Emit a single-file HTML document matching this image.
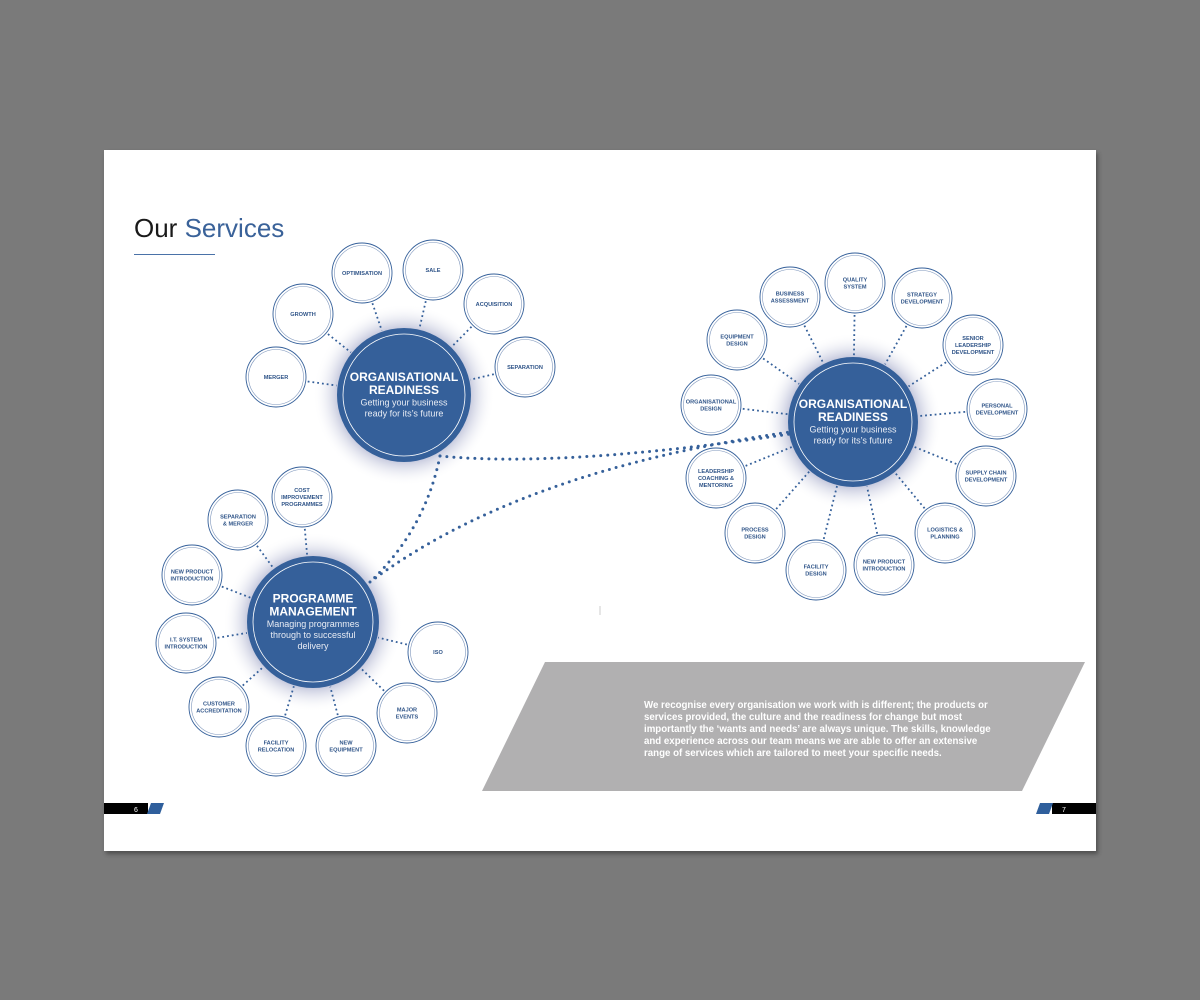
<!DOCTYPE html>
<html><head><meta charset="utf-8"><style>
html,body{margin:0;padding:0;width:1200px;height:1000px;overflow:hidden;background:#7b7b7b;font-family:"Liberation Sans",Arial,sans-serif}
svg{display:block}
</style></head><body>
<svg id="s" width="1200" height="1000" viewBox="0 0 1200 1000" xmlns="http://www.w3.org/2000/svg" font-family="Liberation Sans, Arial, sans-serif">
<defs>
<radialGradient id="glow"><stop offset="0.7" stop-color="#b9bdd6" stop-opacity="1"/><stop offset="1" stop-color="#ffffff" stop-opacity="0"/></radialGradient>
<filter id="sh" x="-5%" y="-5%" width="110%" height="110%"><feGaussianBlur stdDeviation="2"/></filter>
</defs>
<rect x="0" y="0" width="1200" height="1000" fill="#7a7a7a"/>
<rect x="106" y="153" width="992" height="701" fill="#333" opacity="0.6" filter="url(#sh)"/>
<rect x="104" y="150" width="992" height="701" fill="#ffffff"/>
<text x="134" y="237" font-size="26" fill="#1a1a1a">Our <tspan fill="#3a6299">Services</tspan></text>
<line x1="134" y1="254.5" x2="215" y2="254.5" stroke="#4a72a8" stroke-width="1"/>
<polygon points="545,662 1085,662 1022,791 482,791" fill="#b1b0b1"/>
<g font-size="9.7" font-weight="bold" fill="#ffffff">
<text x="644" y="708">We recognise every organisation we work with is different; the products or</text>
<text x="644" y="720">services provided, the culture and the readiness for change but most</text>
<text x="644" y="732">importantly the ‘wants and needs’ are always unique. The skills, knowledge</text>
<text x="644" y="744">and experience across our team means we are able to offer an extensive</text>
<text x="644" y="756">range of services which are tailored to meet your specific needs.</text>
</g>
<rect x="104" y="803" width="44" height="11" fill="#000"/>
<text x="134" y="812" font-size="7" fill="#fff">6</text>
<polygon points="151,803 164,803 160,814 147,814" fill="#2f5f9c"/>
<rect x="1052" y="803" width="44" height="11" fill="#000"/>
<text x="1062" y="812" font-size="7" fill="#fff">7</text>
<polygon points="1040,803 1053,803 1049,814 1036,814" fill="#2f5f9c"/>
<line x1="600" y1="606" x2="600" y2="615" stroke="#ccc" stroke-width="1"/>
<g id="g"></g>
</svg>
<script>
var NS="http://www.w3.org/2000/svg",g=document.getElementById('g');
function el(t,a,txt){var e=document.createElementNS(NS,t);for(var k in a)e.setAttribute(k,a[k]);if(txt)e.textContent=txt;g.appendChild(e);return e;}
var B="#35609a";
var clusters=[
 {c:[404,395],r:67,t:["ORGANISATIONAL","READINESS"],s:["Getting your business","ready for its’s future"],n:[
  [276,377,"MERGER"],[303,314,"GROWTH"],[362,273,"OPTIMISATION"],[433,270,"SALE"],[494,304,"ACQUISITION"],[525,367,"SEPARATION"]]},
 {c:[313,622],r:66,t:["PROGRAMME","MANAGEMENT"],s:["Managing programmes","through to successful","delivery"],n:[
  [302,497,"COST|IMPROVEMENT|PROGRAMMES"],[238,520,"SEPARATION|& MERGER"],[192,575,"NEW PRODUCT|INTRODUCTION"],[186,643,"I.T. SYSTEM|INTRODUCTION"],[219,707,"CUSTOMER|ACCREDITATION"],[276,746,"FACILITY|RELOCATION"],[346,746,"NEW|EQUIPMENT"],[407,713,"MAJOR|EVENTS"],[438,652,"ISO"]]},
 {c:[853,422],r:65,t:["ORGANISATIONAL","READINESS"],s:["Getting your business","ready for its’s future"],n:[
  [790,297,"BUSINESS|ASSESSMENT"],[855,283,"QUALITY|SYSTEM"],[922,298,"STRATEGY|DEVELOPMENT"],[973,345,"SENIOR|LEADERSHIP|DEVELOPMENT"],[997,409,"PERSONAL|DEVELOPMENT"],[986,476,"SUPPLY CHAIN|DEVELOPMENT"],[945,533,"LOGISTICS &|PLANNING"],[884,565,"NEW PRODUCT|INTRODUCTION"],[816,570,"FACILITY|DESIGN"],[755,533,"PROCESS|DESIGN"],[716,478,"LEADERSHIP|COACHING &|MENTORING"],[711,405,"ORGANISATIONAL|DESIGN"],[737,340,"EQUIPMENT|DESIGN"]]}
];
var nr=30;
clusters.forEach(function(C){el('circle',{cx:C.c[0],cy:C.c[1],r:C.r+24,fill:"url(#glow)"});});
[["M440,456 Q560,468 790,434",3],["M440,456 Q425,530 370,582",3],["M370,582 Q520,470 790,432",3]].forEach(function(p){
 el('path',{d:p[0],fill:"none",stroke:B,"stroke-width":p[1],"stroke-linecap":"round","stroke-dasharray":"0 7"});});
clusters.forEach(function(C){
 var cx=C.c[0],cy=C.c[1];
 C.n.forEach(function(n){
  var dx=cx-n[0],dy=cy-n[1],d=Math.sqrt(dx*dx+dy*dy),ux=dx/d,uy=dy/d;
  el('line',{x1:n[0]+ux*(nr+2),y1:n[1]+uy*(nr+2),x2:cx-ux*(C.r+1),y2:cy-uy*(C.r+1),stroke:B,"stroke-width":1.8,"stroke-dasharray":"1.8 3"});
  el('circle',{cx:n[0],cy:n[1],r:nr,fill:"#fff",stroke:B,"stroke-width":0.9});
  el('circle',{cx:n[0],cy:n[1],r:nr-2.5,fill:"none",stroke:"#7d95bb","stroke-width":0.6});
  var L=n[2].split('|'),y0=n[1]-(L.length-1)*3.6+2;
  L.forEach(function(s,i){el('text',{x:n[0],y:y0+i*7.2,"text-anchor":"middle","font-size":"5.6","font-weight":"bold",fill:"#2f5488"},s);});
 });
 el('circle',{cx:cx,cy:cy,r:C.r,fill:B});
 el('circle',{cx:cx,cy:cy,r:C.r-6,fill:"none",stroke:"#fff","stroke-width":0.8});
 var tl=C.t.length,sl=C.s.length,tot=tl*13+sl*11,y=cy-tot/2+10;
 C.t.forEach(function(s){el('text',{x:cx,y:y,"text-anchor":"middle","font-size":"12","font-weight":"bold",fill:"#fff"},s);y+=13;});
 y-=1.5;
 C.s.forEach(function(s){el('text',{x:cx,y:y,"text-anchor":"middle","font-size":"9",fill:"#e8ecf4"},s);y+=11;});
});
</script>
</body></html>
